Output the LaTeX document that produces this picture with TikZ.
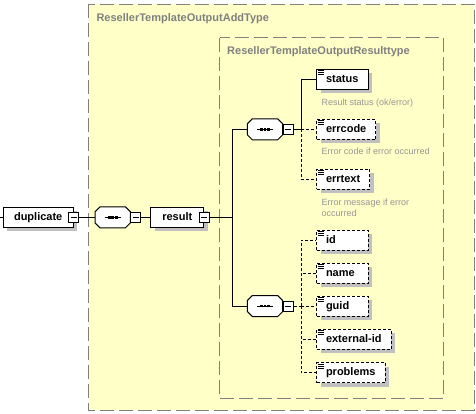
\documentclass[tikz,border=0pt]{standalone}
\usepackage{fontspec}
\setmainfont{Liberation Sans}
\usetikzlibrary{shadows}
\definecolor{bgyellow}{RGB}{255,255,200}
\definecolor{framegray}{RGB}{128,128,128}
\definecolor{shadegray}{RGB}{192,192,192}
\definecolor{docgray}{RGB}{150,150,150}

\begin{document}
\begin{tikzpicture}[x=1pt,y=-1pt,line width=1pt,
	boxshadow/.style={drop shadow={shadow xshift=4pt,shadow yshift=-4pt,fill=shadegray,opacity=1}},
	elem/.style={draw,fill=white,boxshadow,font=\fontsize{11}{13}\selectfont\bfseries,minimum height=20pt,inner xsep=9.5pt,inner ysep=0pt,text height=8pt,text depth=2pt,anchor=west},
	opt/.style={elem,dash pattern=on 3pt off 2pt},
	seqbox/.style={minimum width=34.4pt,minimum height=20pt,inner sep=0pt,anchor=west},
	minus/.style={draw,fill=white,minimum size=10pt,inner sep=0pt,
		path picture={\draw ([xshift=2pt]path picture bounding box.west) -- ([xshift=-2pt]path picture bounding box.east);}},
	note/.style={font=\fontsize{9}{11}\selectfont,text=docgray,anchor=base west,inner sep=0pt,align=left},
	typebox/.style={draw=framegray,fill=bgyellow,dash pattern=on 14pt off 5pt},
	typename/.style={font=\fontsize{11}{13}\selectfont\bfseries,text=framegray,anchor=base west,inner sep=0pt},
	optlink/.style={dash pattern=on 3pt off 2pt}]
		\useasboundingbox (0,0) rectangle (476,413);
		% complex types
		\draw[typebox] (88.5,4) rectangle (474,410.3);
		\node[typename] (addtype) at (96,21) {ResellerTemplateOutputAddType};
		\draw[typebox] (219.5,37.5) rectangle (443.5,398);
		\node[typename] (resulttype) at (226.7,54) {ResellerTemplateOutputResulttype};
		% main chain
		\coordinate (in) at (0,217.3);
		\node[elem,minimum width=70pt] (duplicate) at (2.7,217.3) {duplicate};
		\node[minus] (duplicatem) at (duplicate.east) {};
		\node[seqbox] (seqa) at (95,217.3) {};
		\node[elem,minimum width=53pt] (result) at (150.3,217.3) {result};
		\node[minus] (resultm) at (result.east) {};
		\node[seqbox] (seqb) at (247.3,129.3) {};
		\node[seqbox] (seqc) at (247.3,306) {};
		% sequence octagons
		\foreach \s in {seqa,seqb,seqc} {
			\fill[shadegray,shift={(4,4)}] ([xshift=5pt]\s.north west) -- ([xshift=-5pt]\s.north east) -- ([yshift=-5pt]\s.north east) -- ([yshift=5pt]\s.south east) -- ([xshift=-5pt]\s.south east) -- ([xshift=5pt]\s.south west) -- ([yshift=5pt]\s.south west) -- ([yshift=-5pt]\s.north west) -- cycle;
			\filldraw[fill=white] ([xshift=5pt]\s.north west) -- ([xshift=-5pt]\s.north east) -- ([yshift=-5pt]\s.north east) -- ([yshift=5pt]\s.south east) -- ([xshift=-5pt]\s.south east) -- ([xshift=5pt]\s.south west) -- ([yshift=5pt]\s.south west) -- ([yshift=-5pt]\s.north west) -- cycle;
			\draw ([xshift=-8pt]\s.center) -- ([xshift=8pt]\s.center);
			\foreach \q in {-3.5,0,3.5}
				\fill ([xshift=\q pt]\s.center) +(-1.3,-1.3) rectangle +(1.3,1.3);
		}
		\node[minus,anchor=west] (seqam) at (seqa.east) {};
		\node[minus,anchor=west] (seqbm) at (seqb.east) {};
		\node[minus,anchor=west] (seqcm) at (seqc.east) {};
		\draw (in) -- (duplicate.west);
		\draw (duplicatem.east) -- (seqa.west);
		\draw (seqam.east) -- (result.west);
		\coordinate (ja) at (232.3,217.3);
		\draw (resultm.east) -- (ja);
		\draw (seqb.west) -| (ja) |- (seqc.west);
		% status part
		\node[elem,text width=32.5pt,align=left] (status) at (316,79.3) {status};
		\node[opt] (errcode) at (316,129.3) {errcode};
		\node[opt] (errtext) at (316,179) {errtext};
		\node[note] (statusdoc) at (321,105.5) {Result status (ok/error)};
		\node[note] (errcodedoc) at (321,154.5) {Error code if error occurred};
		\node[note] (errtextdoc) at (321,216) {Error message if error\\occurred};
		\coordinate (jb) at (301,129.3);
		\draw (seqbm.east) -- (jb) |- (status.west);
		\draw[optlink] (jb) -- (errcode.west);
		\draw[optlink] (jb) |- (errtext.west);
		% result data part
		\node[opt,text width=32.5pt,align=left] (id) at (316,240) {id};
		\node[opt,text width=32.5pt,align=left] (name) at (316,273) {name};
		\node[opt,text width=32.5pt,align=left] (guid) at (316,306) {guid};
		\node[opt] (extid) at (316,339.3) {external-id};
		\node[opt] (problems) at (316,372.7) {problems};
		\coordinate (jc) at (301,306);
		\draw[optlink] (seqcm.east) -- (jc);
		\foreach \c in {id,name,guid,extid,problems}
			\draw[optlink] (jc) |- (\c.west);
		% element icons
		\foreach \c in {status,errcode,errtext,id,name,guid,extid,problems}
			\foreach \d in {2,4,6}
				\draw[line width=0.8pt] ([shift={(1.5,\d)}]\c.north west) -- ++(6,0);
	\end{tikzpicture}
\end{document}
